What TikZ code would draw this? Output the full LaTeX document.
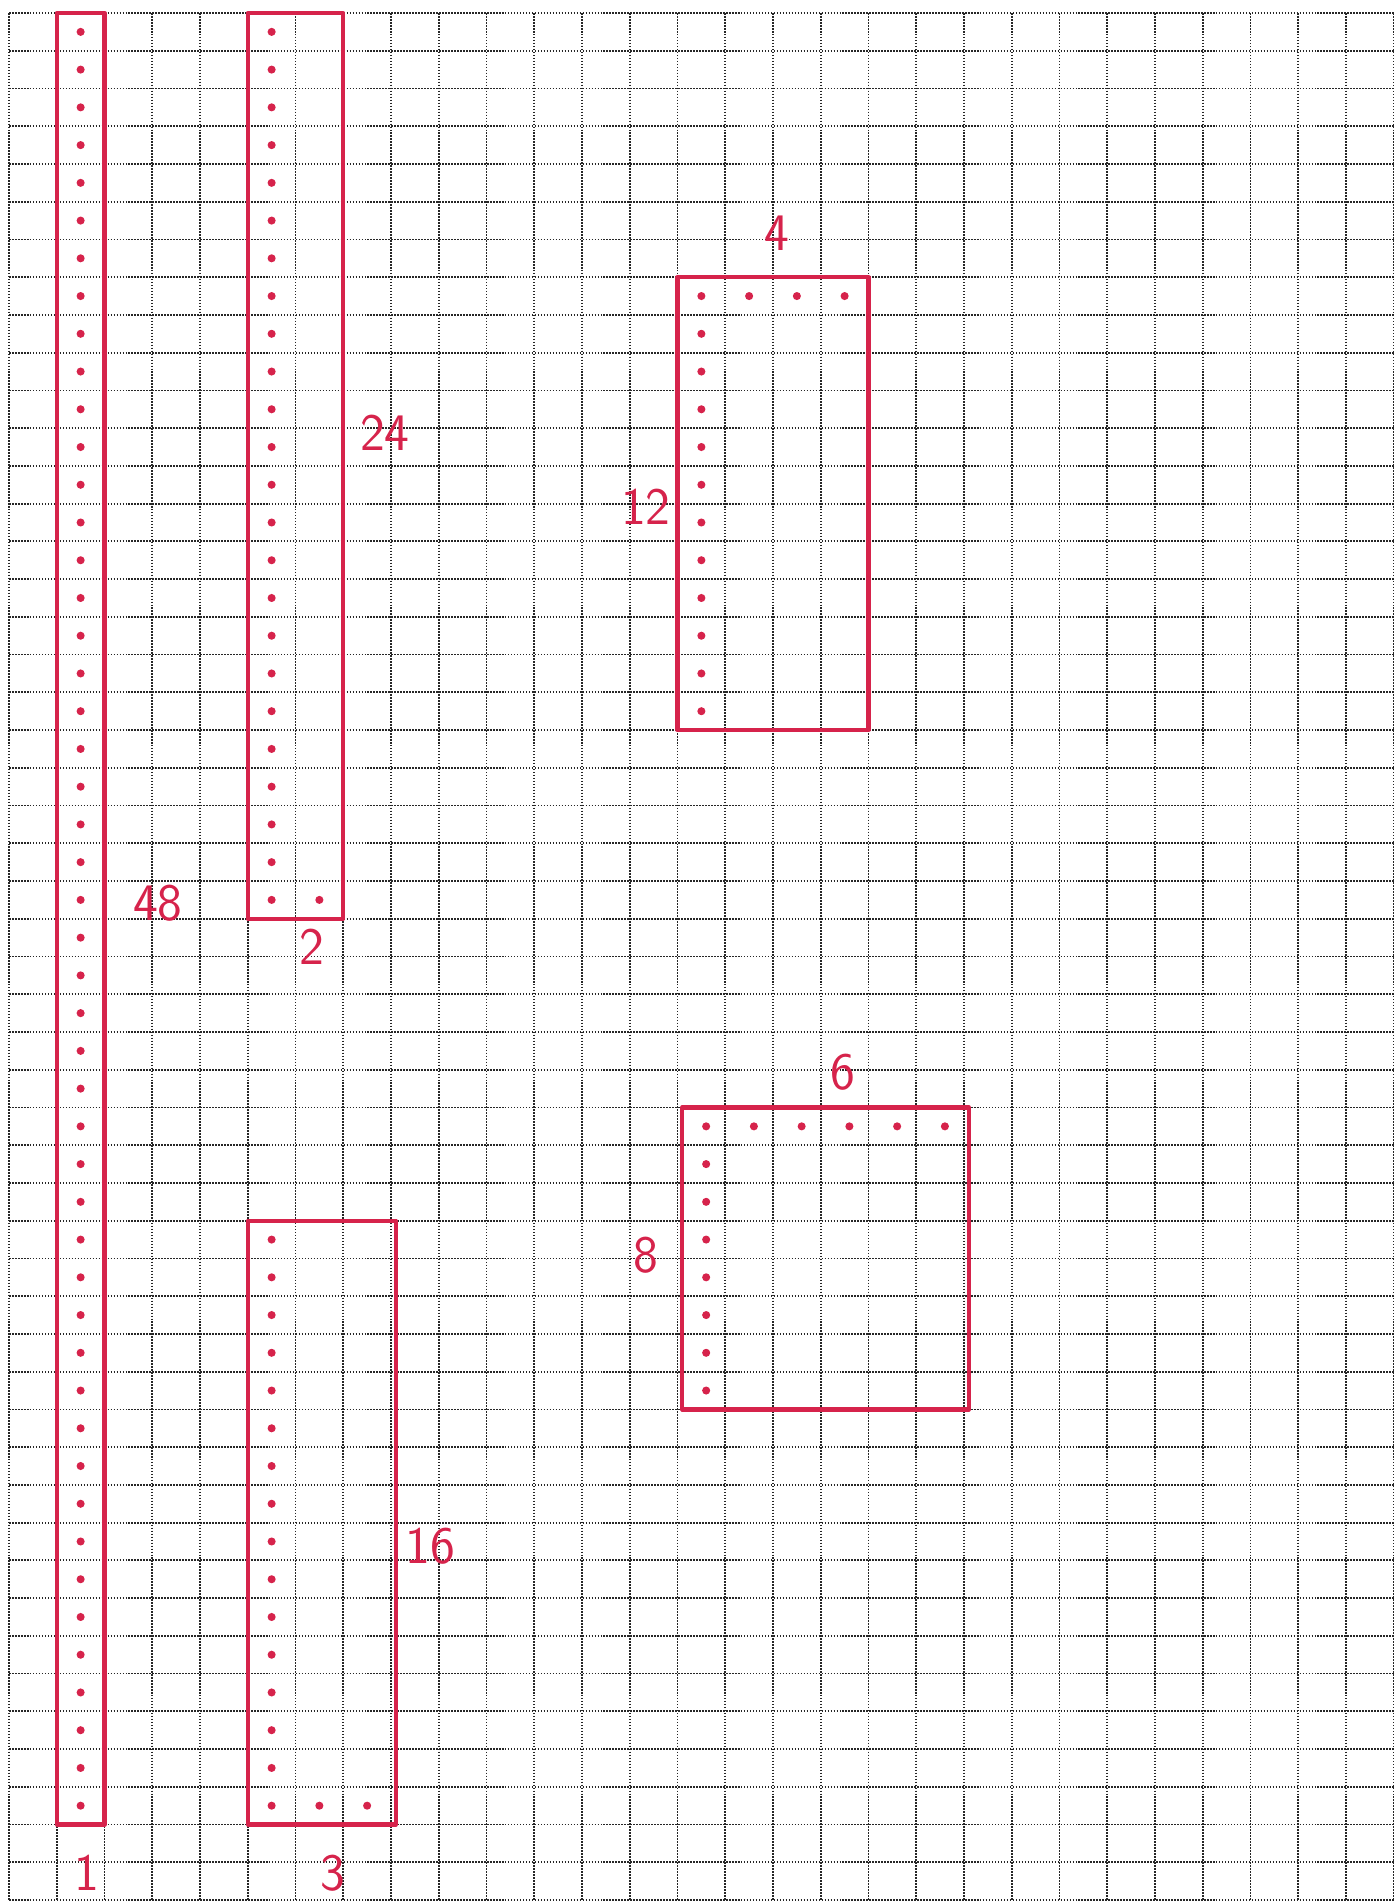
\documentclass[tikz,border=0pt]{standalone}
\usetikzlibrary{positioning}
\definecolor{penred}{RGB}{214,35,75}
\tikzset{
    gridline/.style={black!85, line width=1pt, dash pattern=on 0.9pt off 0.8pt},
    redbox/.style={draw=penred, line width=2.5pt, line join=round},
    reddot/.style={fill=penred},
    sizelabel/.style={text=penred, font=\sffamily\fontsize{30}{32}\selectfont, inner sep=0pt}
}
\begin{document}
\begin{tikzpicture}[x=0.955cm,y=-0.7548cm]
\useasboundingbox (-0.1885,-0.3445) rectangle (29.005,50.026);

% Grid paper
\foreach \i in {0,...,29} \draw[gridline] (\i,0) -- (\i,50);
\foreach \j in {0,...,50} \draw[gridline] (0,\j) -- (29,\j);

% 1 x 48
\draw[redbox] (1,0) rectangle (2,48);
\foreach \r in {0,...,47} \fill[reddot] (1.5,\r+0.5) circle (2.3pt);
\node[sizelabel] (wone) at (1.63,49.28) {1};
\node[sizelabel] (hfortyeight) at (3.12,23.58) {48};

% 2 x 24
\draw[redbox] (5,0) rectangle (7,24);
\foreach \r in {0,...,23} \fill[reddot] (5.5,\r+0.5) circle (2.3pt);
\fill[reddot] (6.5,23.5) circle (2.3pt);
\node[sizelabel] (wtwo) at (6.35,24.75) {2};
\node[sizelabel] (htwentyfour) at (7.87,11.13) {24};

% 3 x 16
\draw[redbox] (5,32) rectangle (8.1,48);
\foreach \r in {32,...,47} \fill[reddot] (5.5,\r+0.5) circle (2.3pt);
\foreach \c in {6,7} \fill[reddot] (\c+0.5,47.5) circle (2.3pt);
\node[sizelabel] (wthree) at (6.79,49.28) {3};
\node[sizelabel] (hsixteen) at (8.82,40.62) {16};

% 4 x 12
\draw[redbox] (14,7) rectangle (18,19);
\foreach \r in {7,...,18} \fill[reddot] (14.5,\r+0.5) circle (2.3pt);
\foreach \c in {15,16,17} \fill[reddot] (\c+0.5,7.5) circle (2.3pt);
\node[sizelabel] (wfour) at (16.08,5.83) {4};
\node[sizelabel] (htwelve) at (13.34,13.09) {12};

% 6 x 8
\draw[redbox] (14.1,29) rectangle (20.1,37);
\foreach \r in {29,...,36} \fill[reddot] (14.6,\r+0.5) circle (2.3pt);
\foreach \c in {15,...,19} \fill[reddot] (\c+0.6,29.5) circle (2.3pt);
\node[sizelabel] (wsix) at (17.47,28.06) {6};
\node[sizelabel] (height) at (13.34,32.91) {8};
\end{tikzpicture}
\end{document}
